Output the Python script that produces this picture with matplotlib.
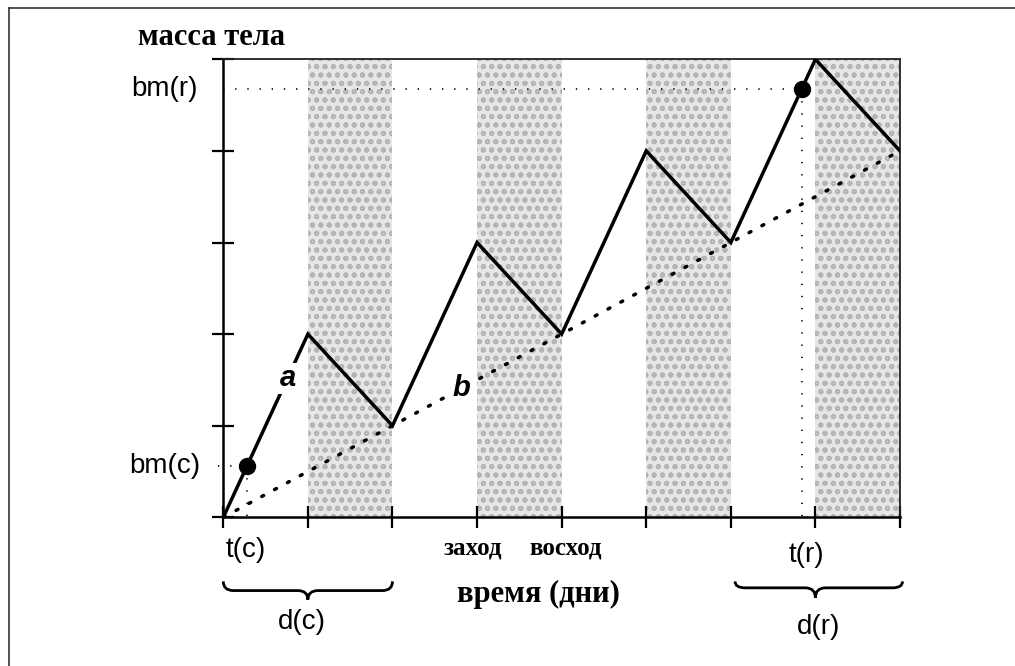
import matplotlib
matplotlib.use("Agg")
import matplotlib.pyplot as plt
from matplotlib.path import Path
from matplotlib.patches import PathPatch
from matplotlib.lines import Line2D

# ---- data ----
days = [0, 1, 2, 3, 4, 5, 6, 7, 8]
body_mass = [0, 2, 1, 3, 2, 4, 3, 5, 4]
trend_days = [0, 8]
trend_mass = [0, 4]
night_starts = [1, 3, 5, 7]
night_ends = [2, 4, 6, 8]
t_c, bm_c = 0.28, 0.56
t_r, bm_r = 6.84, 4.68
y_ticks = [0, 1, 2, 3, 4, 5]

plt.rcParams['hatch.linewidth'] = 1.3
fig = plt.figure(figsize=(10.15, 6.66), dpi=100)
ax = fig.add_axes([223.3/1015, 1-517.3/666, (900-223.3)/1015, (517.3-59.3)/666])
ax.set_xlim(0, 8)
ax.set_ylim(0, 5)

# night shading
for s, e in zip(night_starts, night_ends):
    ax.axvspan(s, e, facecolor='#e6e6e6', edgecolor='#b4b4b4', hatch='oo', linewidth=0, zorder=0)

# main sawtooth
ax.plot(days, body_mass, color='black', lw=2.5, zorder=3, solid_joinstyle='miter')
# trend line b
ax.plot(trend_days, trend_mass, color='black', lw=2.5, linestyle=(0, (0.6, 3.6)),
        dash_capstyle='round', zorder=3)

# guide lines
guide = dict(color='black', lw=1.2, linestyle=(0, (0.8, 6.5)), clip_on=False, zorder=2)
ax.plot([t_c, t_c], [bm_c, -0.07], **guide)
ax.plot([-0.06, t_c], [bm_c, bm_c], **guide)
ax.plot([t_r, t_r], [bm_r, -0.07], **guide)
ax.plot([0, t_r], [bm_r, bm_r], **guide)

# points
ax.plot([t_c, t_r], [bm_c, bm_r], 'o', color='black', ms=11.5, zorder=4, clip_on=False)

# spines & ticks
ax.spines['left'].set_linewidth(1.8)
ax.spines['bottom'].set_linewidth(1.8)
for sp in ['top', 'right']:
    ax.spines[sp].set_linewidth(1.3)
    ax.spines[sp].set_color('#222222')
ax.set_xticks(days)
ax.set_yticks(y_ticks)
ax.tick_params(direction='inout', length=16, width=1.6, labelbottom=False, labelleft=False)

# line labels
lab_bbox = dict(facecolor='white', edgecolor='none', pad=1.0)
ax.text(0.76, 1.52, 'a', fontsize=21, fontweight='bold', fontstyle='italic',
        family='Liberation Sans', ha='center', va='center', bbox=lab_bbox, zorder=5)
ax.text(2.82, 1.41, 'b', fontsize=21, fontweight='bold', fontstyle='italic',
        family='Liberation Sans', ha='center', va='center', bbox=lab_bbox, zorder=5)

sans = dict(family='Liberation Sans', fontsize=20, ha='center', va='center', clip_on=False)
serif = dict(family='Liberation Serif', fontweight='bold', ha='center', va='center', clip_on=False)

ax.text(-0.134, 5.24, 'масса тела', fontsize=22, **serif)
ax.text(-0.69, bm_r, 'bm(r)', **sans)
ax.text(-0.69, bm_c, 'bm(c)', **sans)
ax.text(t_c - 0.02, -0.36, 't(c)', **sans)
ax.text(t_r + 0.05, -0.41, 't(r)', **sans)
ax.text(2.95, -0.33, 'заход', fontsize=18, **serif)
ax.text(4.05, -0.33, 'восход', fontsize=18, **serif)
ax.text(3.72, -0.84, 'время (дни)', fontsize=22, **serif)
ax.text(0.93, -1.14, 'd(c)', **sans)
ax.text(7.04, -1.20, 'd(r)', **sans)


def brace(x0, x1, xm, ytop, ymid, ytip, dx=0.12):
    verts = [(x0, ytop), (x0, ymid), (x0 + dx, ymid),
             (xm - dx, ymid), (xm, ymid), (xm, ytip),
             (xm, ytip), (xm, ymid), (xm + dx, ymid),
             (x1 - dx, ymid), (x1, ymid), (x1, ytop)]
    codes = [Path.MOVETO, Path.CURVE3, Path.CURVE3,
             Path.LINETO, Path.CURVE3, Path.CURVE3,
             Path.MOVETO, Path.CURVE3, Path.CURVE3,
             Path.LINETO, Path.CURVE3, Path.CURVE3]
    p = PathPatch(Path(verts, codes), facecolor='none', edgecolor='black', lw=2.0,
                  clip_on=False, transform=ax.transData)
    ax.add_patch(p)


brace(0, 2, 1, -0.70, -0.80, -0.90)
brace(6.05, 8.03, 7.0, -0.70, -0.77, -0.88)

# outer frame (top and left edges)
fig.add_artist(Line2D([9/1015, 1], [1-8/666, 1-8/666], color='#333333', lw=1.2))
fig.add_artist(Line2D([9/1015, 9/1015], [0, 1-8/666], color='#333333', lw=1.2))

fig.savefig('out.png', dpi=100)
